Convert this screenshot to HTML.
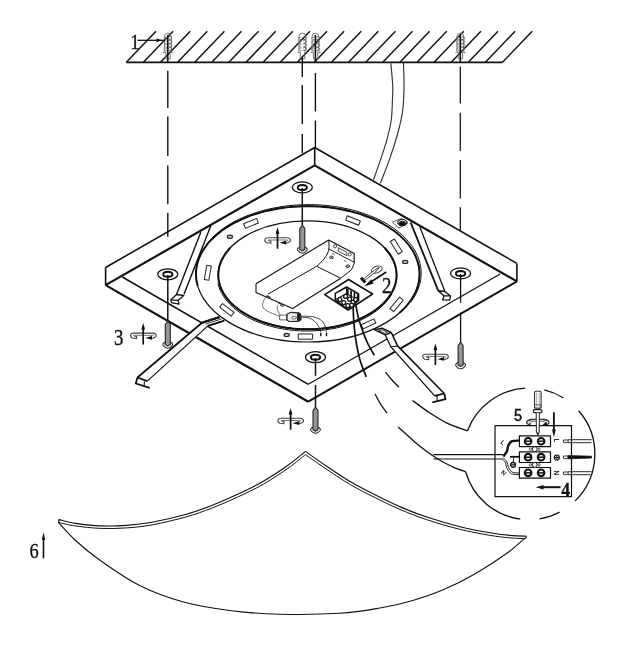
<!DOCTYPE html>
<html lang="en"><head><meta charset="utf-8"><title>Ceiling lamp installation diagram</title>
<style>
html,body{margin:0;padding:0;background:#fff;}
body{width:627px;height:649px;overflow:hidden;}
svg{display:block;}
svg text{font-family:"Liberation Serif",serif;fill:#111;filter:grayscale(1);}
</style></head><body>
<svg width="627" height="649" viewBox="0 0 627 649" fill="none" stroke-linecap="butt" stroke-linejoin="round">
<rect x="0" y="0" width="627" height="649" fill="#fff"/>
<line x1="126.3" y1="62.3" x2="502.6" y2="62.3" stroke="#111" stroke-width="1.7" />
<line x1="126.3" y1="62.3" x2="156.0" y2="31.2" stroke="#111" stroke-width="1.45" />
<line x1="143.4" y1="62.3" x2="173.1" y2="31.2" stroke="#111" stroke-width="1.45" />
<line x1="160.5" y1="62.3" x2="190.2" y2="31.2" stroke="#111" stroke-width="1.45" />
<line x1="177.6" y1="62.3" x2="207.3" y2="31.2" stroke="#111" stroke-width="1.45" />
<line x1="194.7" y1="62.3" x2="224.4" y2="31.2" stroke="#111" stroke-width="1.45" />
<line x1="211.8" y1="62.3" x2="241.5" y2="31.2" stroke="#111" stroke-width="1.45" />
<line x1="228.9" y1="62.3" x2="258.6" y2="31.2" stroke="#111" stroke-width="1.45" />
<line x1="246.0" y1="62.3" x2="275.7" y2="31.2" stroke="#111" stroke-width="1.45" />
<line x1="263.1" y1="62.3" x2="292.8" y2="31.2" stroke="#111" stroke-width="1.45" />
<line x1="280.2" y1="62.3" x2="309.9" y2="31.2" stroke="#111" stroke-width="1.45" />
<line x1="297.3" y1="62.3" x2="327.0" y2="31.2" stroke="#111" stroke-width="1.45" />
<line x1="314.4" y1="62.3" x2="344.1" y2="31.2" stroke="#111" stroke-width="1.45" />
<line x1="331.5" y1="62.3" x2="361.2" y2="31.2" stroke="#111" stroke-width="1.45" />
<line x1="348.6" y1="62.3" x2="378.3" y2="31.2" stroke="#111" stroke-width="1.45" />
<line x1="365.7" y1="62.3" x2="395.4" y2="31.2" stroke="#111" stroke-width="1.45" />
<line x1="382.8" y1="62.3" x2="412.5" y2="31.2" stroke="#111" stroke-width="1.45" />
<line x1="399.9" y1="62.3" x2="429.6" y2="31.2" stroke="#111" stroke-width="1.45" />
<line x1="417.0" y1="62.3" x2="446.7" y2="31.2" stroke="#111" stroke-width="1.45" />
<line x1="434.1" y1="62.3" x2="463.8" y2="31.2" stroke="#111" stroke-width="1.45" />
<line x1="451.2" y1="62.3" x2="480.9" y2="31.2" stroke="#111" stroke-width="1.45" />
<line x1="468.3" y1="62.3" x2="498.0" y2="31.2" stroke="#111" stroke-width="1.45" />
<line x1="485.4" y1="62.3" x2="515.1" y2="31.2" stroke="#111" stroke-width="1.45" />
<line x1="502.5" y1="62.3" x2="532.2" y2="31.2" stroke="#111" stroke-width="1.45" />
<path d="M390.8,63.1 C391.1,66.8 392.4,78.7 392.7,85.0 C393.0,91.3 392.6,95.4 392.4,101.2 C392.2,107.0 392.1,113.6 391.3,119.7 C390.5,125.8 388.9,131.9 387.3,138.1 C385.7,144.2 383.9,149.7 381.6,156.6 C379.3,163.5 374.9,175.8 373.5,179.7" stroke="#333" stroke-width="1.15" fill="none" />
<path d="M403.5,63.1 C403.6,67.5 404.2,81.3 404.0,89.6 C403.8,97.9 403.4,105.4 402.4,112.7 C401.3,120.0 399.8,125.8 397.7,133.5 C395.6,141.2 392.6,150.6 389.7,158.9 C386.8,167.2 381.9,179.1 380.4,183.2" stroke="#333" stroke-width="1.15" fill="none" />
<path d="M164.4,51.5 L164.4,37 Q164.4,33.2 167.8,33.2 Q171.4,33.2 171.4,37 L171.4,51.5" stroke="#666" stroke-width="0.9" fill="none" />
<path d="M168.8,37.2 q2.6,-1.6 3,1 q-0.6,1.8 -3,1.4" stroke="#555" stroke-width="0.9" fill="none" />
<path d="M167.0,37.6 q-2.4,-1.4 -2.8,1 q0.6,1.6 2.8,1.2" stroke="#777" stroke-width="0.8" fill="none" />
<path d="M168.8,40.8 q2.6,-1.6 3,1 q-0.6,1.8 -3,1.4" stroke="#555" stroke-width="0.9" fill="none" />
<path d="M167.0,41.199999999999996 q-2.4,-1.4 -2.8,1 q0.6,1.6 2.8,1.2" stroke="#777" stroke-width="0.8" fill="none" />
<path d="M168.8,44.4 q2.6,-1.6 3,1 q-0.6,1.8 -3,1.4" stroke="#555" stroke-width="0.9" fill="none" />
<path d="M167.0,44.8 q-2.4,-1.4 -2.8,1 q0.6,1.6 2.8,1.2" stroke="#777" stroke-width="0.8" fill="none" />
<path d="M168.8,48 q2.6,-1.6 3,1 q-0.6,1.8 -3,1.4" stroke="#555" stroke-width="0.9" fill="none" />
<path d="M167.0,48.4 q-2.4,-1.4 -2.8,1 q0.6,1.6 2.8,1.2" stroke="#777" stroke-width="0.8" fill="none" />
<path d="M163.0,52.6 l2.8,-0.6 l0,6.6 M173.0,52.8 l-2.8,-0.8 l0,6.8 l-4.4,0" stroke="#666" stroke-width="0.9" fill="none" />
<line x1="167.8" y1="35.0" x2="167.8" y2="62.3" stroke="#111" stroke-width="1.6" />
<path d="M298.9,51.5 L298.9,37 Q298.9,33.2 302.3,33.2 Q305.9,33.2 305.9,37 L305.9,51.5" stroke="#666" stroke-width="0.9" fill="none" />
<path d="M303.3,37.2 q2.6,-1.6 3,1 q-0.6,1.8 -3,1.4" stroke="#555" stroke-width="0.9" fill="none" />
<path d="M301.5,37.6 q-2.4,-1.4 -2.8,1 q0.6,1.6 2.8,1.2" stroke="#777" stroke-width="0.8" fill="none" />
<path d="M303.3,40.8 q2.6,-1.6 3,1 q-0.6,1.8 -3,1.4" stroke="#555" stroke-width="0.9" fill="none" />
<path d="M301.5,41.199999999999996 q-2.4,-1.4 -2.8,1 q0.6,1.6 2.8,1.2" stroke="#777" stroke-width="0.8" fill="none" />
<path d="M303.3,44.4 q2.6,-1.6 3,1 q-0.6,1.8 -3,1.4" stroke="#555" stroke-width="0.9" fill="none" />
<path d="M301.5,44.8 q-2.4,-1.4 -2.8,1 q0.6,1.6 2.8,1.2" stroke="#777" stroke-width="0.8" fill="none" />
<path d="M303.3,48 q2.6,-1.6 3,1 q-0.6,1.8 -3,1.4" stroke="#555" stroke-width="0.9" fill="none" />
<path d="M301.5,48.4 q-2.4,-1.4 -2.8,1 q0.6,1.6 2.8,1.2" stroke="#777" stroke-width="0.8" fill="none" />
<path d="M297.5,52.6 l2.8,-0.6 l0,6.6 M307.5,52.8 l-2.8,-0.8 l0,6.8 l-4.4,0" stroke="#666" stroke-width="0.9" fill="none" />
<line x1="302.3" y1="57.5" x2="302.3" y2="62.3" stroke="#111" stroke-width="1.4" />
<path d="M312.0,51.5 L312.0,37 Q312.0,33.2 315.4,33.2 Q319.0,33.2 319.0,37 L319.0,51.5" stroke="#666" stroke-width="0.9" fill="none" />
<path d="M316.4,37.2 q2.6,-1.6 3,1 q-0.6,1.8 -3,1.4" stroke="#555" stroke-width="0.9" fill="none" />
<path d="M314.6,37.6 q-2.4,-1.4 -2.8,1 q0.6,1.6 2.8,1.2" stroke="#777" stroke-width="0.8" fill="none" />
<path d="M316.4,40.8 q2.6,-1.6 3,1 q-0.6,1.8 -3,1.4" stroke="#555" stroke-width="0.9" fill="none" />
<path d="M314.6,41.199999999999996 q-2.4,-1.4 -2.8,1 q0.6,1.6 2.8,1.2" stroke="#777" stroke-width="0.8" fill="none" />
<path d="M316.4,44.4 q2.6,-1.6 3,1 q-0.6,1.8 -3,1.4" stroke="#555" stroke-width="0.9" fill="none" />
<path d="M314.6,44.8 q-2.4,-1.4 -2.8,1 q0.6,1.6 2.8,1.2" stroke="#777" stroke-width="0.8" fill="none" />
<path d="M316.4,48 q2.6,-1.6 3,1 q-0.6,1.8 -3,1.4" stroke="#555" stroke-width="0.9" fill="none" />
<path d="M314.6,48.4 q-2.4,-1.4 -2.8,1 q0.6,1.6 2.8,1.2" stroke="#777" stroke-width="0.8" fill="none" />
<path d="M310.6,52.6 l2.8,-0.6 l0,6.6 M320.6,52.8 l-2.8,-0.8 l0,6.8 l-4.4,0" stroke="#666" stroke-width="0.9" fill="none" />
<line x1="315.4" y1="35.0" x2="315.4" y2="62.3" stroke="#111" stroke-width="1.6" />
<path d="M456.9,51.5 L456.9,37 Q456.9,33.2 460.3,33.2 Q463.9,33.2 463.9,37 L463.9,51.5" stroke="#666" stroke-width="0.9" fill="none" />
<path d="M461.3,37.2 q2.6,-1.6 3,1 q-0.6,1.8 -3,1.4" stroke="#555" stroke-width="0.9" fill="none" />
<path d="M459.5,37.6 q-2.4,-1.4 -2.8,1 q0.6,1.6 2.8,1.2" stroke="#777" stroke-width="0.8" fill="none" />
<path d="M461.3,40.8 q2.6,-1.6 3,1 q-0.6,1.8 -3,1.4" stroke="#555" stroke-width="0.9" fill="none" />
<path d="M459.5,41.199999999999996 q-2.4,-1.4 -2.8,1 q0.6,1.6 2.8,1.2" stroke="#777" stroke-width="0.8" fill="none" />
<path d="M461.3,44.4 q2.6,-1.6 3,1 q-0.6,1.8 -3,1.4" stroke="#555" stroke-width="0.9" fill="none" />
<path d="M459.5,44.8 q-2.4,-1.4 -2.8,1 q0.6,1.6 2.8,1.2" stroke="#777" stroke-width="0.8" fill="none" />
<path d="M461.3,48 q2.6,-1.6 3,1 q-0.6,1.8 -3,1.4" stroke="#555" stroke-width="0.9" fill="none" />
<path d="M459.5,48.4 q-2.4,-1.4 -2.8,1 q0.6,1.6 2.8,1.2" stroke="#777" stroke-width="0.8" fill="none" />
<path d="M455.5,52.6 l2.8,-0.6 l0,6.6 M465.5,52.8 l-2.8,-0.8 l0,6.8 l-4.4,0" stroke="#666" stroke-width="0.9" fill="none" />
<line x1="460.3" y1="35.0" x2="460.3" y2="62.3" stroke="#111" stroke-width="1.6" />
<line x1="137.5" y1="40.3" x2="165.0" y2="40.3" stroke="#111" stroke-width="1.3" />
<path d="M162,40.3 L156.5,38.4 L156.5,42.2 Z" fill="#111"/>
<line x1="167.8" y1="70.7" x2="167.8" y2="108.0" stroke="#111" stroke-width="1.4" />
<line x1="167.8" y1="116.5" x2="167.8" y2="156.0" stroke="#111" stroke-width="1.4" />
<line x1="167.8" y1="165.5" x2="167.8" y2="204.3" stroke="#111" stroke-width="1.4" />
<line x1="167.8" y1="213.0" x2="167.8" y2="236.8" stroke="#111" stroke-width="1.4" />
<line x1="302.3" y1="62.3" x2="302.3" y2="77.0" stroke="#111" stroke-width="1.4" />
<line x1="302.3" y1="85.0" x2="302.3" y2="124.0" stroke="#111" stroke-width="1.4" />
<line x1="302.3" y1="134.0" x2="302.3" y2="153.0" stroke="#111" stroke-width="1.4" />
<line x1="315.4" y1="73.0" x2="315.4" y2="111.5" stroke="#111" stroke-width="1.4" />
<line x1="315.4" y1="120.5" x2="315.4" y2="147.5" stroke="#111" stroke-width="1.4" />
<line x1="460.3" y1="66.5" x2="460.3" y2="103.5" stroke="#111" stroke-width="1.25" />
<line x1="460.3" y1="112.7" x2="460.3" y2="151.0" stroke="#111" stroke-width="1.25" />
<line x1="460.3" y1="160.0" x2="460.3" y2="198.4" stroke="#111" stroke-width="1.25" />
<line x1="460.3" y1="207.2" x2="460.3" y2="230.4" stroke="#111" stroke-width="1.25" />
<line x1="105.6" y1="267.5" x2="314.7" y2="147.5" stroke="#111" stroke-width="1.6" />
<line x1="314.7" y1="147.5" x2="516.9" y2="263.4" stroke="#111" stroke-width="1.6" />
<line x1="105.6" y1="267.5" x2="105.6" y2="285.1" stroke="#111" stroke-width="1.6" />
<line x1="314.7" y1="147.5" x2="314.7" y2="165.4" stroke="#111" stroke-width="1.6" />
<line x1="516.9" y1="263.4" x2="516.9" y2="281.4" stroke="#111" stroke-width="1.6" />
<line x1="105.6" y1="285.1" x2="314.7" y2="165.4" stroke="#111" stroke-width="2.2" />
<line x1="314.7" y1="165.4" x2="516.9" y2="281.4" stroke="#111" stroke-width="2.2" />
<line x1="105.6" y1="285.1" x2="308.3" y2="401.7" stroke="#111" stroke-width="2.2" />
<line x1="516.9" y1="281.4" x2="308.3" y2="401.7" stroke="#111" stroke-width="2.0" />
<line x1="122.3" y1="277.0" x2="308.3" y2="384.3" stroke="#111" stroke-width="1.5" />
<line x1="500.2" y1="274.0" x2="308.3" y2="384.3" stroke="#111" stroke-width="1.3" />
<ellipse cx="307.8" cy="274.1" rx="111.8" ry="67.9" stroke="#111" stroke-width="1.2" fill="none" />
<path d="M197.7,285.9 C197.5,285.1 196.9,282.8 196.6,281.3 C196.4,279.7 196.2,278.2 196.1,276.6 C196.0,275.0 196.0,273.5 196.1,271.9 C196.1,270.4 196.3,268.8 196.6,267.3 C196.8,265.7 197.2,264.2 197.6,262.6 C198.0,261.1 198.6,259.6 199.2,258.0 C199.8,256.5 200.5,255.0 201.2,253.5 C202.0,252.0 202.9,250.6 203.8,249.1 C204.8,247.7 205.8,246.2 206.9,244.8 C208.0,243.4 209.2,242.0 210.5,240.7 C211.7,239.3 213.1,238.0 214.5,236.7 C215.9,235.4 217.4,234.1 218.9,232.9 C220.5,231.7 222.1,230.4 223.8,229.3 C225.5,228.1 227.3,227.0 229.1,225.9 C230.9,224.8 232.8,223.7 234.7,222.7 C236.7,221.7 238.7,220.7 240.7,219.8 C242.8,218.8 244.9,217.9 247.1,217.1 C249.2,216.2 251.4,215.4 253.7,214.7 C255.9,213.9 258.2,213.2 260.5,212.6 C262.8,211.9 265.2,211.3 267.6,210.7 C270.0,210.2 272.4,209.7 274.9,209.2 C277.3,208.7 279.8,208.3 282.3,208.0 C284.8,207.6 287.3,207.3 289.9,207.1 C292.4,206.8 294.9,206.6 297.5,206.5 C300.1,206.3 302.6,206.3 305.2,206.2 C307.7,206.2 310.3,206.2 312.9,206.3 C315.4,206.3 318.0,206.5 320.6,206.6 C323.1,206.8 325.6,207.1 328.2,207.3 C330.7,207.6 333.2,208.0 335.7,208.4 C338.2,208.7 340.6,209.2 343.1,209.7 C345.5,210.2 347.9,210.7 350.3,211.3 C352.6,211.9 355.0,212.5 357.3,213.2 C359.6,213.9 361.9,214.7 364.1,215.5 C366.3,216.2 368.5,217.1 370.6,217.9 C372.7,218.8 374.8,219.7 376.8,220.7 C378.8,221.7 380.8,222.7 382.7,223.7 C384.6,224.8 386.4,225.9 388.2,227.0 C390.0,228.1 391.7,229.3 393.4,230.5 C395.0,231.6 396.6,232.9 398.1,234.1 C399.6,235.4 401.0,236.7 402.4,238.0 C403.8,239.3 405.1,240.7 406.3,242.1 C407.5,243.4 408.6,244.8 409.7,246.3 C410.7,247.7 411.7,249.1 412.6,250.6 C413.5,252.0 414.3,253.5 415.0,255.0 C415.7,256.5 416.4,258.0 416.9,259.6 C417.5,261.1 417.9,262.6 418.3,264.2 C418.7,265.7 419.0,267.3 419.2,268.8 C419.4,270.4 419.5,271.9 419.5,273.5 C419.5,275.0 419.5,276.6 419.3,278.2 C419.1,279.7 418.9,281.3 418.6,282.8 C418.2,284.4 417.8,285.9 417.3,287.4 C416.8,289.0 416.2,290.5 415.6,292.0 C414.9,293.5 414.1,295.0 413.3,296.4 C412.4,297.9 411.5,299.4 410.5,300.8 C409.5,302.2 408.4,303.7 407.2,305.0 C406.1,306.4 404.8,307.8 403.5,309.1 C402.2,310.5 400.0,312.4 399.3,313.0" stroke="#111" stroke-width="1.9" fill="none" />
<path d="M206.5,244.2 C207.1,243.5 208.8,241.4 210.0,240.0 C211.3,238.7 212.6,237.3 214.0,236.0 C215.4,234.7 216.8,233.4 218.4,232.2 C219.9,230.9 221.5,229.7 223.2,228.5 C224.8,227.3 226.6,226.2 228.4,225.1 C230.2,224.0 232.0,222.9 234.0,221.8 C235.9,220.8 237.9,219.8 239.9,218.9 C241.9,217.9 244.0,217.0 246.1,216.1 C248.3,215.3 250.4,214.4 252.7,213.7 C254.9,212.9 257.2,212.2 259.5,211.5 C261.8,210.8 264.1,210.2 266.5,209.6 C268.9,209.0 271.3,208.5 273.7,208.0 C276.2,207.5 278.6,207.1 281.1,206.7 C283.6,206.3 286.1,206.0 288.6,205.7 C291.1,205.4 293.7,205.2 296.2,205.0 C298.8,204.8 301.3,204.7 303.9,204.7 C306.5,204.6 309.0,204.6 311.6,204.6 C314.2,204.7 316.7,204.8 319.3,204.9 C321.8,205.1 324.4,205.3 326.9,205.5 C329.4,205.8 331.9,206.1 334.4,206.4 C336.9,206.8 339.4,207.2 341.8,207.7 C344.3,208.1 346.7,208.6 349.1,209.2 C351.5,209.8 353.9,210.4 356.2,211.0 C358.5,211.7 360.8,212.4 363.0,213.2 C365.3,213.9 367.5,214.7 369.6,215.6 C371.8,216.4 373.9,217.3 376.0,218.2 C378.0,219.2 380.0,220.1 382.0,221.2 C383.9,222.2 385.8,223.2 387.6,224.3 C389.4,225.4 391.2,226.6 392.9,227.7 C394.6,228.9 396.2,230.1 397.8,231.3 C399.4,232.6 400.9,233.8 402.3,235.1 C403.7,236.4 405.1,237.8 406.3,239.1 C407.6,240.5 408.8,241.9 409.9,243.3 C411.0,244.7 412.1,246.1 413.0,247.6 C414.0,249.0 414.9,250.5 415.7,252.0 C416.5,253.4 417.2,254.9 417.8,256.5 C418.4,258.0 419.0,259.5 419.4,261.0 C419.9,262.6 420.2,264.1 420.5,265.7 C420.8,267.2 421.0,268.8 421.1,270.3 C421.2,271.9 421.2,273.5 421.2,275.0 C421.1,276.6 420.9,278.1 420.7,279.7 C420.5,281.3 420.1,282.8 419.7,284.3 C419.3,285.9 418.8,287.4 418.2,288.9 C417.6,290.5 416.9,292.0 416.2,293.5 C415.4,294.9 414.6,296.4 413.7,297.9 C412.7,299.3 411.2,301.5 410.7,302.2" stroke="#111" stroke-width="1.0" fill="none" />
<ellipse cx="307.4" cy="275.0" rx="89.2" ry="54.2" stroke="#111" stroke-width="1.3" fill="none" />
<path d="M384.7,247.9 C385.1,248.4 386.6,250.0 387.5,251.2 C388.4,252.3 389.3,253.4 390.0,254.6 C390.8,255.7 391.5,256.9 392.1,258.1 C392.8,259.2 393.3,260.4 393.9,261.6 C394.4,262.8 394.8,264.1 395.2,265.3 C395.5,266.5 395.8,267.7 396.0,269.0 C396.3,270.2 396.4,271.4 396.5,272.7 C396.6,273.9 396.6,275.2 396.6,276.4 C396.5,277.6 396.4,278.9 396.2,280.1 C396.0,281.3 395.7,282.6 395.4,283.8 C395.1,285.0 394.7,286.3 394.2,287.5 C393.7,288.7 393.2,289.9 392.6,291.1 C392.0,292.2 391.3,293.4 390.6,294.6 C389.9,295.7 389.1,296.9 388.2,298.0 C387.3,299.1 386.4,300.2 385.4,301.3 C384.4,302.4 383.4,303.5 382.3,304.5 C381.2,305.5 380.0,306.6 378.8,307.6 C377.5,308.6 376.2,309.5 374.9,310.5 C373.6,311.4 372.2,312.3 370.8,313.2 C369.3,314.1 367.8,314.9 366.3,315.7 C364.8,316.6 363.2,317.4 361.6,318.1 C359.9,318.9 358.3,319.6 356.6,320.3 C354.9,321.0 353.1,321.6 351.4,322.2 C349.6,322.8 347.8,323.4 345.9,323.9 C344.1,324.5 342.2,325.0 340.3,325.4 C338.4,325.9 336.5,326.3 334.6,326.7 C332.6,327.1 330.7,327.4 328.7,327.7 C326.7,328.0 324.7,328.2 322.7,328.5 C320.7,328.7 318.6,328.8 316.6,329.0 C314.6,329.1 312.5,329.2 310.5,329.2 C308.5,329.3 306.4,329.3 304.4,329.2 C302.4,329.2 300.3,329.1 298.3,329.0 C296.3,328.8 294.2,328.7 292.2,328.5 C290.2,328.2 288.2,328.0 286.2,327.7 C284.2,327.4 282.3,327.1 280.3,326.7 C278.4,326.3 276.5,325.9 274.6,325.4 C272.7,325.0 270.8,324.5 269.0,323.9 C267.1,323.4 265.3,322.8 263.5,322.2 C261.8,321.6 260.0,321.0 258.3,320.3 C256.6,319.6 255.0,318.9 253.3,318.1 C251.7,317.4 250.1,316.6 248.6,315.7 C247.1,314.9 245.6,314.1 244.1,313.2 C242.7,312.3 241.3,311.4 240.0,310.5 C238.7,309.5 237.4,308.6 236.1,307.6 C234.9,306.6 233.7,305.5 232.6,304.5 C231.5,303.5 230.5,302.4 229.5,301.3 C228.5,300.2 227.6,299.1 226.7,298.0 C225.8,296.9 225.0,295.7 224.3,294.6 C223.6,293.4 222.9,292.2 222.3,291.1 C221.7,289.9 221.2,288.7 220.7,287.5 C220.2,286.3 219.8,285.0 219.5,283.8 C219.2,282.6 218.9,281.3 218.7,280.1 C218.5,278.9 218.4,277.6 218.3,276.4 C218.3,275.2 218.3,273.9 218.4,272.7 C218.5,271.4 218.6,270.2 218.9,269.0 C219.1,267.7 219.4,266.5 219.7,265.3 C220.1,264.1 220.5,262.8 221.0,261.6 C221.6,260.4 222.1,259.2 222.8,258.1 C223.4,256.9 224.1,255.7 224.9,254.6 C225.6,253.4 226.5,252.3 227.4,251.2 C228.3,250.0 229.8,248.4 230.2,247.9" stroke="#111" stroke-width="2.0" fill="none" />
<path d="M391.5,294.7 C391.1,295.3 390.0,297.0 389.2,298.2 C388.4,299.3 387.5,300.4 386.5,301.5 C385.6,302.6 384.6,303.7 383.5,304.8 C382.4,305.9 381.3,306.9 380.1,307.9 C378.9,308.9 377.7,309.9 376.4,310.9 C375.1,311.9 373.7,312.8 372.3,313.7 C370.9,314.6 369.5,315.5 368.0,316.4 C366.5,317.2 364.9,318.0 363.4,318.8 C361.8,319.6 360.1,320.3 358.5,321.1 C356.8,321.8 355.1,322.5 353.3,323.1 C351.6,323.7 349.8,324.4 348.0,324.9 C346.2,325.5 344.3,326.0 342.5,326.5 C340.6,327.0 338.7,327.5 336.8,327.9 C334.8,328.3 332.9,328.7 330.9,329.0 C329.0,329.3 327.0,329.6 325.0,329.9 C323.0,330.1 321.0,330.3 319.0,330.5 C316.9,330.7 314.9,330.8 312.9,330.9 C310.8,331.0 308.8,331.0 306.8,331.0 C304.7,331.0 302.7,331.0 300.6,330.9 C298.6,330.8 296.6,330.6 294.6,330.5 C292.6,330.3 290.5,330.1 288.5,329.8 C286.6,329.6 284.6,329.3 282.6,328.9 C280.6,328.6 278.7,328.2 276.8,327.8 C274.9,327.4 273.0,326.9 271.1,326.4 C269.2,325.9 267.4,325.4 265.6,324.8 C263.8,324.2 262.0,323.6 260.3,322.9 C258.5,322.3 256.8,321.6 255.1,320.9 C253.5,320.2 251.8,319.4 250.3,318.6 C248.7,317.8 247.1,317.0 245.7,316.2 C244.2,315.3 242.7,314.4 241.3,313.5 C239.9,312.6 238.6,311.6 237.3,310.7 C236.0,309.7 234.8,308.7 233.6,307.7 C232.4,306.7 231.3,305.6 230.3,304.5 C229.2,303.5 228.2,302.4 227.2,301.3 C226.3,300.2 225.4,299.0 224.6,297.9 C223.8,296.7 223.0,295.6 222.4,294.4 C221.7,293.2 221.0,292.0 220.5,290.8 C219.9,289.6 219.5,288.4 219.0,287.2 C218.6,286.0 218.2,284.1 218.0,283.5" stroke="#111" stroke-width="1.0" fill="none" />
<path d="M392.4,222.2 L401.5,218.4 L408.0,222.6 L399.0,228.2 Z" stroke="#444" stroke-width="0.9" fill="#fff" />
<ellipse cx="402.3" cy="222.6" rx="4.6" ry="3.1" stroke="#111" stroke-width="1.1" fill="#fff" />
<ellipse cx="402.3" cy="223.3" rx="3.3" ry="2.0" stroke="#111" stroke-width="0.8" fill="#111" />
<ellipse cx="167.8" cy="274.3" rx="10.0" ry="5.5" stroke="#111" stroke-width="1.3" fill="none" />
<ellipse cx="167.8" cy="274.3" rx="4.6" ry="2.5" stroke="#111" stroke-width="2.0" fill="none" />
<ellipse cx="302.3" cy="187.4" rx="10.0" ry="5.5" stroke="#111" stroke-width="1.3" fill="none" />
<ellipse cx="302.3" cy="187.4" rx="4.6" ry="2.5" stroke="#111" stroke-width="2.0" fill="none" />
<ellipse cx="460.6" cy="273.4" rx="10.0" ry="5.5" stroke="#111" stroke-width="1.3" fill="none" />
<ellipse cx="460.6" cy="273.4" rx="4.6" ry="2.5" stroke="#111" stroke-width="2.0" fill="none" />
<ellipse cx="315.5" cy="357.2" rx="10.0" ry="5.5" stroke="#111" stroke-width="1.3" fill="none" />
<ellipse cx="315.5" cy="357.2" rx="4.6" ry="2.5" stroke="#111" stroke-width="2.0" fill="none" />
<line x1="167.8" y1="275.0" x2="167.8" y2="321.0" stroke="#111" stroke-width="1.5" />
<path d="M165.2,342.1 Q162.2,343.5 163.1,345.3 Q165.4,348.2 167.8,348.2 Q170.2,348.2 172.5,345.3 Q173.4,343.5 170.4,342.1" stroke="#333" stroke-width="1.1" fill="#fff" />
<path d="M167.8,321.0 L170.3,324.5 L170.3,344.5 L167.8,346.1 L165.3,344.5 L165.3,324.5 Z" fill="#888" stroke="#222" stroke-width="1.1"/>
<line x1="166.0" y1="326.0" x2="169.6" y2="325.0" stroke="#bbb" stroke-width="0.6" />
<line x1="166.0" y1="328.3" x2="169.6" y2="327.3" stroke="#bbb" stroke-width="0.6" />
<line x1="166.0" y1="330.6" x2="169.6" y2="329.6" stroke="#bbb" stroke-width="0.6" />
<line x1="166.0" y1="332.9" x2="169.6" y2="331.9" stroke="#bbb" stroke-width="0.6" />
<line x1="166.0" y1="335.2" x2="169.6" y2="334.2" stroke="#bbb" stroke-width="0.6" />
<line x1="166.0" y1="337.5" x2="169.6" y2="336.5" stroke="#bbb" stroke-width="0.6" />
<line x1="166.0" y1="339.8" x2="169.6" y2="338.8" stroke="#bbb" stroke-width="0.6" />
<line x1="166.0" y1="342.1" x2="169.6" y2="341.1" stroke="#bbb" stroke-width="0.6" />
<line x1="166.0" y1="344.4" x2="169.6" y2="343.4" stroke="#bbb" stroke-width="0.6" />
<line x1="302.3" y1="188.0" x2="302.3" y2="225.0" stroke="#111" stroke-width="1.5" />
<path d="M299.7,247.1 Q296.7,248.5 297.6,250.3 Q299.9,253.2 302.3,253.2 Q304.7,253.2 307.0,250.3 Q307.9,248.5 304.9,247.1" stroke="#333" stroke-width="1.1" fill="#fff" />
<path d="M302.3,225.0 L304.8,228.5 L304.8,249.5 L302.3,251.1 L299.8,249.5 L299.8,228.5 Z" fill="#888" stroke="#222" stroke-width="1.1"/>
<line x1="300.5" y1="230.0" x2="304.1" y2="229.0" stroke="#bbb" stroke-width="0.6" />
<line x1="300.5" y1="232.3" x2="304.1" y2="231.3" stroke="#bbb" stroke-width="0.6" />
<line x1="300.5" y1="234.6" x2="304.1" y2="233.6" stroke="#bbb" stroke-width="0.6" />
<line x1="300.5" y1="236.9" x2="304.1" y2="235.9" stroke="#bbb" stroke-width="0.6" />
<line x1="300.5" y1="239.2" x2="304.1" y2="238.2" stroke="#bbb" stroke-width="0.6" />
<line x1="300.5" y1="241.5" x2="304.1" y2="240.5" stroke="#bbb" stroke-width="0.6" />
<line x1="300.5" y1="243.8" x2="304.1" y2="242.8" stroke="#bbb" stroke-width="0.6" />
<line x1="300.5" y1="246.1" x2="304.1" y2="245.1" stroke="#bbb" stroke-width="0.6" />
<line x1="300.5" y1="248.4" x2="304.1" y2="247.4" stroke="#bbb" stroke-width="0.6" />
<line x1="460.6" y1="274.0" x2="460.6" y2="302.7" stroke="#111" stroke-width="1.3" />
<line x1="460.6" y1="312.5" x2="460.6" y2="342.0" stroke="#111" stroke-width="1.3" />
<path d="M458.0,362.6 Q455.0,364.0 455.9,365.8 Q458.2,368.7 460.6,368.7 Q463.0,368.7 465.3,365.8 Q466.2,364.0 463.2,362.6" stroke="#333" stroke-width="1.1" fill="#fff" />
<path d="M460.6,342.0 L463.1,345.5 L463.1,365.0 L460.6,366.6 L458.1,365.0 L458.1,345.5 Z" fill="#888" stroke="#222" stroke-width="1.1"/>
<line x1="458.8" y1="347.0" x2="462.4" y2="346.0" stroke="#bbb" stroke-width="0.6" />
<line x1="458.8" y1="349.3" x2="462.4" y2="348.3" stroke="#bbb" stroke-width="0.6" />
<line x1="458.8" y1="351.6" x2="462.4" y2="350.6" stroke="#bbb" stroke-width="0.6" />
<line x1="458.8" y1="353.9" x2="462.4" y2="352.9" stroke="#bbb" stroke-width="0.6" />
<line x1="458.8" y1="356.2" x2="462.4" y2="355.2" stroke="#bbb" stroke-width="0.6" />
<line x1="458.8" y1="358.5" x2="462.4" y2="357.5" stroke="#bbb" stroke-width="0.6" />
<line x1="458.8" y1="360.8" x2="462.4" y2="359.8" stroke="#bbb" stroke-width="0.6" />
<line x1="458.8" y1="363.1" x2="462.4" y2="362.1" stroke="#bbb" stroke-width="0.6" />
<line x1="315.5" y1="358.0" x2="315.5" y2="375.8" stroke="#111" stroke-width="1.5" />
<line x1="315.5" y1="385.0" x2="315.5" y2="407.0" stroke="#111" stroke-width="1.5" />
<path d="M312.9,427.3 Q309.9,428.7 310.8,430.5 Q313.1,433.4 315.5,433.4 Q317.9,433.4 320.2,430.5 Q321.1,428.7 318.1,427.3" stroke="#333" stroke-width="1.1" fill="#fff" />
<path d="M315.5,407.0 L318.0,410.5 L318.0,429.7 L315.5,431.3 L313.0,429.7 L313.0,410.5 Z" fill="#888" stroke="#222" stroke-width="1.1"/>
<line x1="313.7" y1="412.0" x2="317.3" y2="411.0" stroke="#bbb" stroke-width="0.6" />
<line x1="313.7" y1="414.3" x2="317.3" y2="413.3" stroke="#bbb" stroke-width="0.6" />
<line x1="313.7" y1="416.6" x2="317.3" y2="415.6" stroke="#bbb" stroke-width="0.6" />
<line x1="313.7" y1="418.9" x2="317.3" y2="417.9" stroke="#bbb" stroke-width="0.6" />
<line x1="313.7" y1="421.2" x2="317.3" y2="420.2" stroke="#bbb" stroke-width="0.6" />
<line x1="313.7" y1="423.5" x2="317.3" y2="422.5" stroke="#bbb" stroke-width="0.6" />
<line x1="313.7" y1="425.8" x2="317.3" y2="424.8" stroke="#bbb" stroke-width="0.6" />
<line x1="313.7" y1="428.1" x2="317.3" y2="427.1" stroke="#bbb" stroke-width="0.6" />
<path d="M134.2,336.1 L136.6,336.3 L136.6,338.5 L132.7,338.1 Q130.0,337.2 130.6,334.6 Q131.0,333.1 133.7,333.1 L152.7,333.1 Q155.8,333.1 156.1,335.2 Q156.4,337.4 153.2,338.1 L151.2,338.3" stroke="#444" stroke-width="1.1" fill="none" />
<path d="M134.2,336.1 Q132.7,335.4 134.7,335.3 L152.2,335.3 Q154.0,335.5 153.4,336.4" stroke="#666" stroke-width="0.9" fill="none" />
<path d="M145.2,338.1 L152.0,335.9 L152.0,339.7 Z" fill="#111"/>
<line x1="143.2" y1="327.0" x2="143.2" y2="344.6" stroke="#111" stroke-width="1.7" />
<path d="M143.2,323.0 L145.1,329.5 L141.3,329.5 Z" fill="#111"/>
<path d="M268.5,240.8 L270.9,241.0 L270.9,243.2 L267.0,242.8 Q264.3,241.9 264.9,239.3 Q265.3,237.8 268.0,237.8 L287.0,237.8 Q290.1,237.8 290.4,239.9 Q290.7,242.1 287.5,242.8 L285.5,243.0" stroke="#444" stroke-width="1.1" fill="none" />
<path d="M268.5,240.8 Q267.0,240.1 269.0,240.0 L286.5,240.0 Q288.3,240.2 287.7,241.1" stroke="#666" stroke-width="0.9" fill="none" />
<path d="M279.5,242.8 L286.3,240.6 L286.3,244.4 Z" fill="#111"/>
<line x1="277.5" y1="231.2" x2="277.5" y2="248.7" stroke="#111" stroke-width="1.7" />
<path d="M277.5,227.2 L279.4,233.7 L275.6,233.7 Z" fill="#111"/>
<path d="M426.4,357.2 L428.8,357.4 L428.8,359.6 L424.9,359.2 Q422.2,358.3 422.8,355.7 Q423.2,354.2 425.9,354.2 L444.9,354.2 Q448.0,354.2 448.3,356.3 Q448.6,358.5 445.4,359.2 L443.4,359.4" stroke="#444" stroke-width="1.1" fill="none" />
<path d="M426.4,357.2 Q424.9,356.5 426.9,356.4 L444.4,356.4 Q446.2,356.6 445.6,357.5" stroke="#666" stroke-width="0.9" fill="none" />
<path d="M437.4,359.2 L444.2,357.0 L444.2,360.8 Z" fill="#111"/>
<line x1="435.4" y1="347.5" x2="435.4" y2="365.0" stroke="#111" stroke-width="1.7" />
<path d="M435.4,343.5 L437.3,350.0 L433.5,350.0 Z" fill="#111"/>
<path d="M281.6,421.3 L284.0,421.5 L284.0,423.7 L280.1,423.3 Q277.4,422.4 278.0,419.8 Q278.4,418.3 281.1,418.3 L300.1,418.3 Q303.2,418.3 303.5,420.4 Q303.8,422.6 300.6,423.3 L298.6,423.5" stroke="#444" stroke-width="1.1" fill="none" />
<path d="M281.6,421.3 Q280.1,420.6 282.1,420.5 L299.6,420.5 Q301.4,420.7 300.8,421.6" stroke="#666" stroke-width="0.9" fill="none" />
<path d="M292.6,423.3 L299.4,421.1 L299.4,424.9 Z" fill="#111"/>
<line x1="290.6" y1="412.0" x2="290.6" y2="429.7" stroke="#111" stroke-width="1.7" />
<path d="M290.6,408.0 L292.5,414.5 L288.7,414.5 Z" fill="#111"/>
<path d="M59.0,519.6 C61.8,520.2 68.5,522.4 75.5,523.4 C82.5,524.4 92.5,525.6 101.0,525.9 C109.5,526.2 118.0,526.0 126.5,525.4 C135.0,524.8 142.2,524.1 152.0,522.3 C161.8,520.5 175.7,517.2 185.5,514.5 C195.3,511.8 202.5,509.1 211.0,505.8 C219.5,502.5 228.0,498.8 236.5,494.8 C245.0,490.9 253.5,487.0 262.0,482.1 C270.5,477.2 280.4,470.6 287.6,465.5 C294.8,460.4 302.4,453.8 305.4,451.4" stroke="#111" stroke-width="1.15" fill="none" />
<path d="M58.7,522.5 C61.4,523.1 68.1,524.9 75.1,525.9 C82.2,526.9 92.3,528.1 100.9,528.4 C109.5,528.7 118.1,528.5 126.7,527.9 C135.3,527.3 142.5,526.6 152.5,524.8 C162.4,522.9 176.3,519.7 186.2,516.9 C196.1,514.1 203.3,511.4 211.9,508.1 C220.5,504.8 229.0,501.0 237.6,497.1 C246.1,493.1 254.7,489.2 263.2,484.3 C271.8,479.3 282.0,472.5 289.0,467.5 C296.1,462.6 302.7,456.8 305.4,454.6" stroke="#111" stroke-width="1.0" fill="none" />
<line x1="59.0" y1="519.2" x2="58.6" y2="522.8" stroke="#111" stroke-width="1.3" />
<path d="M305.4,451.4 C308.8,453.8 317.9,460.4 325.5,465.5 C333.1,470.6 342.5,477.1 351.0,482.1 C359.5,487.1 368.0,491.4 376.5,495.6 C385.0,499.9 393.5,504.0 402.0,507.6 C410.5,511.2 417.9,514.1 427.6,517.3 C437.3,520.5 449.6,524.2 460.0,526.8 C470.4,529.4 481.7,531.4 490.0,532.8 C498.3,534.2 503.9,534.8 510.0,535.4 C516.1,536.0 523.9,536.1 526.7,536.2" stroke="#111" stroke-width="1.15" fill="none" />
<path d="M305.4,454.6 C308.5,456.8 316.7,462.6 324.1,467.6 C331.5,472.5 341.2,479.2 349.7,484.3 C358.3,489.3 366.8,493.6 375.4,497.8 C383.9,502.1 392.5,506.3 401.0,509.9 C409.6,513.5 417.1,516.5 426.8,519.7 C436.5,522.9 448.9,526.6 459.4,529.2 C469.9,531.8 481.2,533.8 489.6,535.3 C498.0,536.7 503.8,537.3 509.8,537.9 C515.8,538.4 523.0,538.5 525.6,538.6" stroke="#111" stroke-width="1.0" fill="none" />
<path d="M58.6,522.6 C61.4,525.6 68.4,534.1 75.5,540.5 C82.6,546.9 90.3,553.5 101.0,561.0 C111.7,568.5 125.8,578.7 139.6,585.5 C153.3,592.3 168.2,597.8 183.5,602.0 C198.8,606.2 215.5,608.7 231.4,610.7 C247.3,612.7 261.1,613.8 279.2,614.2 C297.3,614.6 323.2,614.3 340.0,613.3 C356.8,612.3 368.0,610.1 380.0,608.0 C392.0,605.9 401.3,603.8 411.9,600.7 C422.5,597.6 433.2,594.0 443.8,589.5 C454.4,585.0 465.1,579.6 475.7,573.5 C486.3,567.4 499.1,558.9 507.6,552.8 C516.1,546.6 523.5,539.3 526.7,536.6" stroke="#111" stroke-width="1.1" fill="none" />
<path d="M520.3,519.1 A65.8,65.8 0 0 1 465.7,472.0" stroke="#111" stroke-width="1.3" fill="none" />
<path d="M467.4,430.9 A65.8,65.8 0 0 1 525.2,388.2" stroke="#111" stroke-width="1.3" fill="none" />
<path d="M544.2,389.9 A65.8,65.8 0 0 1 563.2,397.7" stroke="#111" stroke-width="1.3" fill="none" />
<path d="M578.7,410.7 A65.8,65.8 0 0 1 574.9,501.1" stroke="#111" stroke-width="1.3" fill="none" />
<path d="M559.6,512.2 A65.8,65.8 0 0 1 539.5,518.9" stroke="#111" stroke-width="1.3" fill="none" />
<rect x="495" y="425.6" width="76.5" height="71.1" stroke="#111" stroke-width="1.2"/>
<text x="130.2" y="49.2" font-size="22" stroke="#111" stroke-width="0.35" textLength="9.2" lengthAdjust="spacingAndGlyphs">1</text>
<text x="29.4" y="557.8" font-size="22" stroke="#111" stroke-width="0.35" textLength="9.2" lengthAdjust="spacingAndGlyphs">6</text>
<line x1="43.5" y1="558.3" x2="43.5" y2="538.0" stroke="#111" stroke-width="1.6" />
<path d="M43.5,532.3 L45.2,540 L41.8,540 Z" fill="#111"/>
<text x="113.9" y="345.4" font-size="22.5" stroke="#111" stroke-width="0.35" textLength="9.4" lengthAdjust="spacingAndGlyphs">3</text>
<text x="382.0" y="293.3" font-size="22.5" stroke="#111" stroke-width="0.35" textLength="9.4" lengthAdjust="spacingAndGlyphs">2</text>
<text x="514.0" y="421.0" font-size="17" stroke="#111" stroke-width="0.55" style="font-family:'Liberation Sans',sans-serif" textLength="8" lengthAdjust="spacingAndGlyphs">5</text>
<text x="561.3" y="495.9" font-size="18.4" stroke="#111" stroke-width="0.3" style="font-weight:bold" textLength="8.8" lengthAdjust="spacingAndGlyphs">4</text>
<line x1="200.8" y1="232.3" x2="176.5" y2="294.5" stroke="#111" stroke-width="1.4" />
<line x1="211.0" y1="225.3" x2="184.1" y2="294.0" stroke="#111" stroke-width="1.4" />
<path d="M176.5,294.5 L183.8,295.5 L178.2,300.3 L171.0,299.8 Z" stroke="#111" stroke-width="1.3" fill="none" />
<path d="M171.0,299.8 L171.4,302.6 L179.0,304.2 L178.2,300.3" stroke="#111" stroke-width="1.3" fill="none" />
<line x1="410.6" y1="222.3" x2="438.2" y2="290.7" stroke="#111" stroke-width="1.8" />
<line x1="419.9" y1="227.1" x2="444.9" y2="291.5" stroke="#111" stroke-width="1.3" />
<path d="M438.2,290.7 L444.9,291.5 L450.5,295.9 L444.1,295.9 Z" stroke="#111" stroke-width="1.3" fill="none" />
<path d="M444.1,295.9 L442.5,299.9 L449.7,300.1 L450.5,295.9" stroke="#111" stroke-width="1.3" fill="none" />
<path d="M202.0,322.7 L219.5,317.1 L224.3,320.7 L207.9,325.9 L147.3,381.1 L137.4,377.5 Z" stroke="none" stroke-width="0" fill="#fff" />
<path d="M219.5,317.1 L202.0,322.7 L137.4,377.5" stroke="#111" stroke-width="1.8" fill="none" />
<path d="M224.3,320.7 L207.9,325.9 L147.3,381.1" stroke="#111" stroke-width="1.2" fill="none" />
<line x1="202.0" y1="322.7" x2="219.5" y2="317.1" stroke="#111" stroke-width="2.2" />
<line x1="207.9" y1="325.9" x2="224.3" y2="320.7" stroke="#111" stroke-width="1.8" />
<line x1="205.5" y1="324.0" x2="221.5" y2="319.0" stroke="#333" stroke-width="1.0" />
<path d="M137.4,377.5 L147.3,381.1" stroke="#111" stroke-width="1.8" fill="none" />
<path d="M137.4,377.5 L135.8,383.5 L149.7,387.9" stroke="#111" stroke-width="1.8" fill="none" />
<line x1="144.5" y1="381.5" x2="144.1" y2="385.8" stroke="#111" stroke-width="1.1" />
<path d="M374.6,329.8 L382.1,328.2 L391.3,332.5 L397.7,346.1 L444.3,393.5 L434.7,395.9 L390.9,346.9 L385.3,334.9 Z" stroke="none" stroke-width="0" fill="#fff" />
<path d="M374.6,329.8 L382.1,328.2 L391.3,332.5 L385.3,334.9 Z" stroke="#111" stroke-width="1.4" fill="none" />
<path d="M378.5,330.6 L382.5,329.8 L387.5,332.3 L384.5,333.4 Z" stroke="#222" stroke-width="0.9" fill="#eee" />
<path d="M385.3,334.9 L390.9,346.9 L434.7,395.9" stroke="#111" stroke-width="1.3" fill="none" />
<path d="M391.3,332.5 L397.7,346.1 L444.3,393.5" stroke="#111" stroke-width="1.6" fill="none" />
<line x1="390.9" y1="346.9" x2="397.7" y2="346.1" stroke="#111" stroke-width="1.0" />
<line x1="434.7" y1="395.9" x2="444.3" y2="393.5" stroke="#111" stroke-width="1.7" />
<path d="M444.3,393.5 L445.5,399.1 L432.3,402.3" stroke="#111" stroke-width="1.8" fill="none" />
<line x1="437.1" y1="395.6" x2="437.1" y2="400.6" stroke="#111" stroke-width="1.1" />
<rect x="-7.0" y="-2.5" width="14" height="5" transform="translate(251.0,223.4) rotate(-22)" stroke="#222" stroke-width="1.0" fill="#fff"/>
<rect x="-7.2" y="-2.3" width="14.5" height="4.6" transform="translate(207.8,272.8) rotate(-80)" stroke="#222" stroke-width="1.0" fill="#fff"/>
<rect x="-7.2" y="-2.3" width="14.5" height="4.6" transform="translate(226.8,309.8) rotate(38)" stroke="#222" stroke-width="1.0" fill="#fff"/>
<rect x="-7.2" y="-2.6" width="14.4" height="5.2" transform="translate(305.4,336.6) rotate(0)" stroke="#222" stroke-width="1.0" fill="#fff"/>
<rect x="-7.0" y="-2.2" width="14" height="4.5" transform="translate(368.5,323.8) rotate(-25)" stroke="#222" stroke-width="1.0" fill="#fff"/>
<rect x="-7.5" y="-2.4" width="15" height="4.8" transform="translate(396.6,304.4) rotate(-50)" stroke="#222" stroke-width="1.0" fill="#fff"/>
<rect x="-7.5" y="-2.4" width="15" height="4.8" transform="translate(396.3,246.6) rotate(58)" stroke="#222" stroke-width="1.0" fill="#fff"/>
<rect x="-7.0" y="-2.3" width="14" height="4.6" transform="translate(353.0,220.5) rotate(22)" stroke="#222" stroke-width="1.0" fill="#fff"/>
<ellipse cx="229.9" cy="236.8" rx="2.6" ry="1.6" stroke="#222" stroke-width="1.2" fill="#ccc" />
<ellipse cx="286.7" cy="334.9" rx="2.6" ry="1.6" stroke="#222" stroke-width="1.2" fill="#ccc" />
<ellipse cx="405.2" cy="261.9" rx="2.6" ry="1.6" stroke="#222" stroke-width="1.2" fill="#ccc" />
<path d="M256.0,283.8 L328.7,240.0 L354.2,253.5 L354.2,263.0" stroke="#111" stroke-width="1.1" fill="none" />
<path d="M256.0,283.8 L256.0,292.6 L292.6,308.5 L340.7,278.2" stroke="#111" stroke-width="1.1" fill="none" />
<path d="M328.7,240.0 C328.7,241.7 329.5,247.1 328.7,250.3 C327.9,253.5 326.0,256.3 324.0,259.0 C322.0,261.7 317.9,265.1 316.7,266.3" stroke="#111" stroke-width="1.0" fill="none" />
<line x1="267.9" y1="294.2" x2="316.7" y2="266.3" stroke="#111" stroke-width="1.0" />
<line x1="316.7" y1="266.3" x2="340.7" y2="278.2" stroke="#111" stroke-width="1.0" />
<path d="M354.2,263.0 C353.7,264.2 353.2,267.5 351.0,270.0 C348.8,272.5 342.4,276.8 340.7,278.2" stroke="#111" stroke-width="1.0" fill="none" />
<path d="M348.6,279.5 L372.6,294.0 L348.2,310.0 L324.7,294.6 Z" stroke="#111" stroke-width="1.5" fill="none" />
<path d="M353.0,301.5 C353.1,304.6 353.2,313.4 353.7,320.0 C354.2,326.6 354.9,334.3 356.0,341.0 C357.1,347.7 358.3,354.0 360.0,360.0 C361.7,366.0 365.2,374.1 366.3,376.9" stroke="#111" stroke-width="1.7" fill="none" />
<path d="M355.4,303.5 C355.9,305.9 357.4,313.6 358.5,318.0 C359.6,322.4 360.8,325.7 362.3,329.9 C363.8,334.1 365.5,338.8 367.5,343.0 C369.5,347.2 373.2,353.3 374.3,355.4" stroke="#111" stroke-width="1.7" fill="none" />
<path d="M375.0,394.0 C375.9,395.7 378.5,400.8 380.5,404.0 C382.5,407.2 385.9,411.5 387.0,413.0" stroke="#111" stroke-width="1.3" fill="none" />
<path d="M385.5,372.1 C386.6,373.4 389.8,377.5 392.0,380.0 C394.2,382.5 397.8,386.1 399.0,387.3" stroke="#111" stroke-width="1.3" fill="none" />
<path d="M398.2,426.9 C401.6,429.9 411.8,439.8 418.3,445.1 C424.8,450.4 431.7,455.2 437.4,458.8 C443.1,462.4 448.0,464.6 452.7,466.8 C457.4,469.0 463.6,471.0 465.8,471.8" stroke="#111" stroke-width="1.3" fill="none" />
<path d="M412.5,400.4 C415.1,402.3 422.1,407.8 427.8,411.6 C433.6,415.4 440.4,419.9 447.0,423.1 C453.6,426.3 463.9,429.5 467.3,430.8" stroke="#111" stroke-width="1.3" fill="none" />
<line x1="433.5" y1="454.6" x2="503.0" y2="454.6" stroke="#111" stroke-width="1.1" />
<line x1="433.5" y1="459.0" x2="503.0" y2="459.0" stroke="#111" stroke-width="1.1" />
<path d="M335.3,293.4 L346.6,287.0 L358.6,294.0 L358.6,300.5 L349.0,307.6 L346.5,308.6 L335.3,299.8 Z" stroke="#111" stroke-width="1.5" fill="#fff" />
<path d="M346.6,287.0 L346.6,293.6 L335.3,299.8" stroke="#111" stroke-width="1.1" fill="none" />
<path d="M346.6,293.6 L358.6,300.5" stroke="#111" stroke-width="1.0" fill="none" />
<line x1="347.8" y1="288.5" x2="347.8" y2="295.5" stroke="#111" stroke-width="1.7" />
<line x1="351.1" y1="290.5" x2="351.1" y2="297.5" stroke="#111" stroke-width="1.7" />
<line x1="354.4" y1="292.4" x2="354.4" y2="299.4" stroke="#111" stroke-width="1.7" />
<line x1="357.7" y1="294.3" x2="357.7" y2="301.3" stroke="#111" stroke-width="1.7" />
<ellipse cx="339.9" cy="299.6" rx="1.9" ry="2.0" stroke="#111" stroke-width="1.3" fill="#fff" />
<ellipse cx="343.8" cy="302.6" rx="1.9" ry="2.0" stroke="#111" stroke-width="1.3" fill="#fff" />
<ellipse cx="347.8" cy="305.6" rx="1.9" ry="2.0" stroke="#111" stroke-width="1.3" fill="#fff" />
<ellipse cx="345.6" cy="296.4" rx="1.9" ry="2.0" stroke="#111" stroke-width="1.3" fill="#fff" />
<ellipse cx="349.6" cy="299.2" rx="1.9" ry="2.0" stroke="#111" stroke-width="1.3" fill="#fff" />
<ellipse cx="353.0" cy="302.2" rx="1.9" ry="2.0" stroke="#111" stroke-width="1.3" fill="#fff" />
<ellipse cx="351.6" cy="305.2" rx="1.9" ry="2.0" stroke="#111" stroke-width="1.3" fill="#fff" />
<ellipse cx="355.6" cy="299.6" rx="1.9" ry="2.0" stroke="#111" stroke-width="1.3" fill="#fff" />
<ellipse cx="376.8" cy="269.6" rx="5.6" ry="3.2" stroke="#333" stroke-width="1.0" fill="#fff" transform="rotate(-20 376.8 269.6)"/>
<path d="M363.0,279.2 L374.5,270.2 L379.5,267.2 L375.8,271.8 L364.2,280.8 Z" stroke="#333" stroke-width="0.9" fill="#fff" />
<line x1="361.0" y1="277.8" x2="365.2" y2="282.4" stroke="#111" stroke-width="3.0" />
<line x1="386.3" y1="272.1" x2="368.5" y2="283.6" stroke="#111" stroke-width="1.8" />
<path d="M364.2,286.4 L371.2,279.6 L373.6,283.4 Z" fill="#111"/>
<path d="M266.6,296.6 C266.1,297.3 264.1,299.3 263.5,301.0 C262.9,302.7 262.1,305.1 262.8,306.8 C263.6,308.6 265.1,309.9 268.0,311.5 C270.9,313.1 278.0,315.6 280.0,316.4" stroke="#444" stroke-width="0.8" fill="none" />
<path d="M277.4,305.5 C277.4,306.2 277.0,308.3 277.5,310.0 C278.0,311.7 280.1,314.8 280.6,315.7" stroke="#444" stroke-width="0.8" fill="none" />
<rect x="279.6" y="315.1" width="7" height="4.8" fill="#fff" stroke="#555" stroke-width="0.9"/>
<path d="M287.0,314.2 L291.0,312.3 L299.0,312.8 L301.0,315.5 L301.0,319.5 L298.0,321.4 L289.0,321.5 L287.0,320.0 Z" stroke="#222" stroke-width="1.2" fill="#eee" />
<line x1="266.5" y1="295.6" x2="270.5" y2="297.6" stroke="#333" stroke-width="1.3" />
<line x1="278.5" y1="302.8" x2="284.0" y2="305.4" stroke="#333" stroke-width="1.4" />
<line x1="280.0" y1="305.2" x2="283.5" y2="307.0" stroke="#444" stroke-width="1.0" />
<rect x="297" y="313.2" width="3.8" height="7.6" fill="#222"/>
<rect x="292" y="316.6" width="4.2" height="2.2" fill="#fff" stroke="#222" stroke-width="0.6"/>
<path d="M301.0,317.2 C302.5,317.4 307.2,317.0 310.0,318.2 C312.8,319.4 315.7,322.1 317.5,324.5 C319.3,326.9 320.2,331.2 320.8,332.5" stroke="#333" stroke-width="0.9" fill="none" />
<path d="M302.0,316.2 C304.0,316.3 310.5,316.0 314.0,317.0 C317.5,318.0 320.9,319.4 323.0,322.0 C325.1,324.6 325.9,330.8 326.5,332.5" stroke="#333" stroke-width="0.9" fill="none" />
<line x1="320.8" y1="333.0" x2="320.8" y2="336.2" stroke="#111" stroke-width="1.4" />
<line x1="326.5" y1="333.0" x2="326.5" y2="336.2" stroke="#111" stroke-width="1.4" />
<line x1="328.7" y1="248.9" x2="354.2" y2="262.3" stroke="#222" stroke-width="1.0" />
<path d="M338.2,247.7 L346.8,252.2 L346.8,255.7 L338.2,251.2 Z" stroke="#333" stroke-width="0.9" fill="none" />
<ellipse cx="335.1" cy="246.3" rx="1.6" ry="1.6" stroke="#333" stroke-width="0.9" fill="none" />
<ellipse cx="349.7" cy="254.4" rx="1.6" ry="1.6" stroke="#333" stroke-width="0.9" fill="none" />
<ellipse cx="331.5" cy="257.4" rx="1.9" ry="1.3" stroke="#333" stroke-width="0.9" fill="#999" />
<ellipse cx="347.8" cy="266.2" rx="1.9" ry="1.3" stroke="#333" stroke-width="0.9" fill="#999" />
<line x1="332.0" y1="253.4" x2="334.6" y2="254.6" stroke="#555" stroke-width="0.9" />
<line x1="344.0" y1="260.5" x2="346.2" y2="261.5" stroke="#555" stroke-width="0.9" />
<rect x="519.4" y="435.9" width="31.1" height="10.7" fill="#fff" stroke="#111" stroke-width="1.2"/>
<circle cx="528.1" cy="441.25" r="3.3" fill="#fff" stroke="#111" stroke-width="2.1"/>
<line x1="524.9" y1="441.2" x2="531.3" y2="441.2" stroke="#111" stroke-width="1.5" />
<circle cx="541.1" cy="441.25" r="3.3" fill="#fff" stroke="#111" stroke-width="2.1"/>
<line x1="537.9" y1="441.2" x2="544.3" y2="441.2" stroke="#111" stroke-width="1.5" />
<rect x="519.4" y="451.8" width="31.1" height="10.7" fill="#fff" stroke="#111" stroke-width="1.2"/>
<circle cx="528.1" cy="457.15" r="3.3" fill="#fff" stroke="#111" stroke-width="2.1"/>
<line x1="524.9" y1="457.2" x2="531.3" y2="457.2" stroke="#111" stroke-width="1.5" />
<circle cx="541.1" cy="457.15" r="3.3" fill="#fff" stroke="#111" stroke-width="2.1"/>
<line x1="537.9" y1="457.2" x2="544.3" y2="457.2" stroke="#111" stroke-width="1.5" />
<rect x="519.4" y="467.5" width="31.1" height="10.7" fill="#fff" stroke="#111" stroke-width="1.2"/>
<circle cx="528.1" cy="472.85" r="3.3" fill="#fff" stroke="#111" stroke-width="2.1"/>
<line x1="524.9" y1="472.9" x2="531.3" y2="472.9" stroke="#111" stroke-width="1.5" />
<circle cx="541.1" cy="472.85" r="3.3" fill="#fff" stroke="#111" stroke-width="2.1"/>
<line x1="537.9" y1="472.9" x2="544.3" y2="472.9" stroke="#111" stroke-width="1.5" />
<circle cx="534.7" cy="449.2" r="2.5" fill="#fff" stroke="#222" stroke-width="1.0"/>
<circle cx="530.4" cy="449.2" r="1.2" fill="#fff" stroke="#333" stroke-width="0.8"/>
<circle cx="539" cy="449.2" r="1.2" fill="#fff" stroke="#333" stroke-width="0.8"/>
<circle cx="534.7" cy="464.9" r="2.5" fill="#fff" stroke="#222" stroke-width="1.0"/>
<circle cx="530.4" cy="464.9" r="1.2" fill="#fff" stroke="#333" stroke-width="0.8"/>
<circle cx="539" cy="464.9" r="1.2" fill="#fff" stroke="#333" stroke-width="0.8"/>
<rect x="534.5" y="391.3" width="6.6" height="17" rx="1.6" fill="#fff" stroke="#333" stroke-width="1.1"/>
<line x1="536.4" y1="393.0" x2="536.4" y2="407.5" stroke="#888" stroke-width="0.7" />
<line x1="539.2" y1="393.0" x2="539.2" y2="407.5" stroke="#888" stroke-width="0.7" />
<rect x="534.6" y="404.8" width="6.4" height="3.4" fill="none" stroke="#444" stroke-width="0.8"/>
<rect x="533.2" y="409.6" width="8.8" height="3" rx="1.3" fill="#fff" stroke="#222" stroke-width="1.2"/>
<path d="M532.5,419.2 C528.5,419.8 526.6,421 526.6,422.2 C526.6,423.4 528,424.4 530,424.8 L530,422.8 M543,419.2 C547,419.8 549,421 549,422.2 C549,423.6 547.5,424.6 545,425" stroke="#333" stroke-width="1.3" fill="none" />
<path d="M527.5,421.2 C531,418.4 544.5,418.4 548.2,421.2" stroke="#333" stroke-width="1.2" fill="none" />
<path d="M529.5,422.6 C532.5,420.4 543,420.4 546.2,422.6" stroke="#555" stroke-width="0.9" fill="none" />
<path d="M542.6,424.4 L546.6,422 L547.2,426.4 Z" fill="#111"/>
<path d="M536.2,412.8 L536.4,432.0 L537.8,434.8 L539.2,432.0 L539.4,412.8" stroke="#222" stroke-width="1.0" fill="#fff" />
<line x1="537.8" y1="432.5" x2="537.8" y2="435.0" stroke="#111" stroke-width="1.2" />
<line x1="553.9" y1="412.3" x2="553.9" y2="431.0" stroke="#111" stroke-width="1.9" />
<path d="M553.9,437.4 L552.1,429.5 L555.7,429.5 Z" fill="#111"/>
<line x1="560.6" y1="487.2" x2="541.0" y2="487.2" stroke="#111" stroke-width="2.0" />
<path d="M535.7,487.2 L543.5,485 L543.5,489.4 Z" fill="#111"/>
<rect x="563.5" y="440.0" width="4.6" height="2.6" fill="#fff" stroke="#222" stroke-width="0.9"/>
<line x1="568.1" y1="439.7" x2="591.5" y2="439.7" stroke="#111" stroke-width="0.9" />
<line x1="568.1" y1="442.7" x2="591.5" y2="442.7" stroke="#111" stroke-width="0.9" />
<rect x="563.5" y="456.0" width="4.6" height="2.6" fill="#fff" stroke="#222" stroke-width="0.9"/>
<path d="M568.1,455.59999999999997 L591.5,456.2 L591.5,458.0 L568.1,458.8 Z" fill="#111" stroke="#111" stroke-width="0.8"/>
<rect x="563.5" y="472.0" width="4.6" height="2.6" fill="#fff" stroke="#222" stroke-width="0.9"/>
<line x1="568.1" y1="471.7" x2="591.5" y2="471.7" stroke="#111" stroke-width="0.9" />
<line x1="568.1" y1="474.7" x2="591.5" y2="474.7" stroke="#111" stroke-width="0.9" />
<path d="M519.4,440.6 C518.2,440.7 513.9,440.4 512.0,441.2 C510.1,442.0 509.1,443.9 508.3,445.5 C507.5,447.1 507.8,449.2 507.0,451.0 C506.2,452.8 504.0,455.6 503.4,456.5" stroke="#111" stroke-width="2.4" fill="none" />
<path d="M519.4,473.0 C518.2,472.9 514.3,473.1 512.5,472.2 C510.7,471.3 509.4,469.2 508.5,467.5 C507.6,465.8 507.9,463.7 507.0,462.0 C506.1,460.3 503.8,458.2 503.2,457.5" stroke="#222" stroke-width="1.0" fill="none" />
<path d="M519.4,474.6 C518.1,474.5 513.6,474.8 511.5,473.8 C509.4,472.8 508.0,470.3 507.0,468.5 C506.0,466.7 506.2,464.6 505.5,463.0 C504.8,461.4 503.0,459.7 502.5,459.0" stroke="#222" stroke-width="1.0" fill="none" />
<path d="M519.4,456.8 L510,456.8" stroke="#111" stroke-width="1.8" fill="none" />
<line x1="513.8" y1="457.5" x2="513.2" y2="462.0" stroke="#111" stroke-width="0.9" />
<ellipse cx="513.1" cy="464.8" rx="2.5" ry="2.5" stroke="#111" stroke-width="1.2" fill="#bbb" />
<line x1="511.2" y1="464.8" x2="515.0" y2="464.8" stroke="#111" stroke-width="1.0" />
<text x="0.0" y="0.0" font-size="6.5" stroke="#111" stroke-width="0.2" transform="translate(553.8,438.6) rotate(90)" style="font-family:'Liberation Sans',sans-serif">L</text>
<text x="0.0" y="0.0" font-size="6.5" stroke="#111" stroke-width="0.2" transform="translate(553.8,470.6) rotate(90)" style="font-family:'Liberation Sans',sans-serif">N</text>
<text x="0.0" y="0.0" font-size="6" stroke="#111" stroke-width="0.2" transform="translate(500.2,443) rotate(40)" style="font-family:'Liberation Sans',sans-serif">L</text>
<text x="0.0" y="0.0" font-size="6" stroke="#111" stroke-width="0.2" transform="translate(500.8,473) rotate(40)" style="font-family:'Liberation Sans',sans-serif">N</text>
<ellipse cx="556.8" cy="457.5" rx="2.5" ry="2.5" stroke="#111" stroke-width="1.2" fill="#fff" />
<line x1="554.6" y1="457.5" x2="559.0" y2="457.5" stroke="#111" stroke-width="1.2" />
<line x1="556.8" y1="455.3" x2="556.8" y2="459.7" stroke="#111" stroke-width="0.8" />
</svg>
</body></html>
